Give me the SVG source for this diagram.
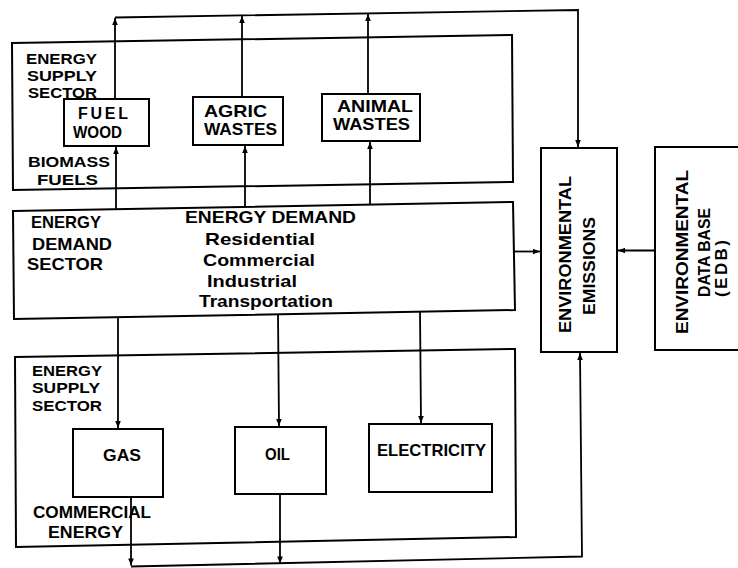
<svg xmlns="http://www.w3.org/2000/svg" width="738" height="568" viewBox="0 0 738 568">
<style>
.box{fill:none;stroke:#000;stroke-width:2;stroke-linejoin:miter}
.c{fill:none;stroke:#000;stroke-width:1.8}
.a{marker-end:url(#ah)}
text{font-family:"Liberation Sans",Arial,sans-serif;font-weight:bold;font-size:17px;fill:#000}
.s{font-size:15px}
.m{font-size:16px}
</style>
<defs>
<marker id="ah" viewBox="0 0 10 10" refX="10" refY="5" markerWidth="8" markerHeight="7" markerUnits="userSpaceOnUse" orient="auto">
<path d="M0,1 L10,5 L0,9 z" fill="#000"/>
</marker>
</defs>
<rect x="0" y="0" width="738" height="568" fill="#fff"/>

<g id="biomass-supply-sector">
<path class="box" d="M12,43 L512,35 L513,182 L13,190 Z"/>
<text class="s" x="26" y="64" textLength="71" lengthAdjust="spacingAndGlyphs">ENERGY</text>
<text class="s" x="27" y="81" textLength="70" lengthAdjust="spacingAndGlyphs">SUPPLY</text>
<text class="s" x="28" y="98" textLength="69" lengthAdjust="spacingAndGlyphs">SECTOR</text>
<text class="s" x="28" y="167" textLength="82" lengthAdjust="spacingAndGlyphs">BIOMASS</text>
<text class="s" x="37" y="185" textLength="61" lengthAdjust="spacingAndGlyphs">FUELS</text>
</g>

<g id="fuel-wood">
<rect class="box" x="64" y="99" width="85" height="47"/>
<text class="m" x="78" y="119" textLength="50" lengthAdjust="spacing">FUEL</text>
<text class="m" x="73" y="137.5" textLength="49" lengthAdjust="spacingAndGlyphs">WOOD</text>
</g>

<g id="agric-wastes">
<rect class="box" x="193" y="97" width="90" height="48"/>
<text x="204" y="117" textLength="63" lengthAdjust="spacingAndGlyphs">AGRIC</text>
<text x="204" y="135" textLength="73" lengthAdjust="spacingAndGlyphs">WASTES</text>
</g>

<g id="animal-wastes">
<rect class="box" x="322" y="94" width="98" height="47"/>
<text x="337" y="112" textLength="76" lengthAdjust="spacingAndGlyphs">ANIMAL</text>
<text x="333" y="130" textLength="77" lengthAdjust="spacingAndGlyphs">WASTES</text>
</g>

<g id="energy-demand-sector">
<path class="box" d="M13,211 L513,202 L515,310 L14,319 Z"/>
<text x="31" y="228" textLength="70" lengthAdjust="spacingAndGlyphs">ENERGY</text>
<text x="32" y="250" textLength="80" lengthAdjust="spacingAndGlyphs">DEMAND</text>
<text x="27" y="270" textLength="76" lengthAdjust="spacingAndGlyphs">SECTOR</text>
<text x="185" y="223" textLength="171" lengthAdjust="spacingAndGlyphs">ENERGY DEMAND</text>
<text x="205" y="245" textLength="110" lengthAdjust="spacingAndGlyphs">Residential</text>
<text x="203" y="266" textLength="112" lengthAdjust="spacingAndGlyphs">Commercial</text>
<text x="207" y="287" textLength="90" lengthAdjust="spacingAndGlyphs">Industrial</text>
<text x="199" y="307" textLength="134" lengthAdjust="spacingAndGlyphs">Transportation</text>
</g>

<g id="commercial-supply-sector">
<path class="box" d="M15,357 L515,349 L516,537 L16,547 Z"/>
<text class="s" x="32" y="376" textLength="70" lengthAdjust="spacingAndGlyphs">ENERGY</text>
<text class="s" x="32" y="393" textLength="68" lengthAdjust="spacingAndGlyphs">SUPPLY</text>
<text class="s" x="32" y="411" textLength="70" lengthAdjust="spacingAndGlyphs">SECTOR</text>
<text x="33" y="518" textLength="118" lengthAdjust="spacingAndGlyphs">COMMERCIAL</text>
<text x="48" y="538" textLength="75" lengthAdjust="spacingAndGlyphs">ENERGY</text>
</g>

<g id="gas">
<rect class="box" x="73" y="429" width="90" height="68"/>
<text x="103" y="461" textLength="38" lengthAdjust="spacingAndGlyphs">GAS</text>
</g>

<g id="oil">
<rect class="box" x="235" y="427" width="91" height="67"/>
<text x="265" y="460" textLength="25" lengthAdjust="spacingAndGlyphs">OIL</text>
</g>

<g id="electricity">
<rect class="box" x="369" y="424" width="123" height="68"/>
<text x="377" y="456" textLength="109" lengthAdjust="spacingAndGlyphs">ELECTRICITY</text>
</g>

<g id="environmental-emissions">
<rect class="box" x="541" y="148" width="76" height="204"/>
<text transform="translate(571,333) rotate(-90)" textLength="157" lengthAdjust="spacingAndGlyphs">ENVIRONMENTAL</text>
<text transform="translate(595,315) rotate(-90)" textLength="98" lengthAdjust="spacingAndGlyphs">EMISSIONS</text>
</g>

<g id="environmental-data-base">
<path class="box" d="M738,147 L655,147 L655,350 L738,350"/>
<text transform="translate(688,334) rotate(-90)" textLength="164" lengthAdjust="spacingAndGlyphs">ENVIRONMENTAL</text>
<text transform="translate(710,297) rotate(-90)" textLength="89" lengthAdjust="spacingAndGlyphs">DATA BASE</text>
<text transform="translate(727,297) rotate(-90)" textLength="57" lengthAdjust="spacing">(EDB)</text>
</g>

<g id="connectors">
<path class="c" d="M115,17.5 L578,10 L578,147" marker-end="url(#ah)"/>
<path class="c a" d="M115,99 L115,18"/>
<path class="c a" d="M242,97 L242,16"/>
<path class="c a" d="M368,94 L368,14"/>
<path class="c a" d="M116,209 L116,147"/>
<path class="c a" d="M245,207 L245,146"/>
<path class="c a" d="M370,205 L370,142"/>
<path class="c a" d="M514,251.5 L540,251.5"/>
<path class="c a" d="M655,250.5 L618,250.5"/>
<path class="c a" d="M118,317 L118,428"/>
<path class="c a" d="M278,314 L279,426"/>
<path class="c a" d="M420,311 L421,423"/>
<path class="c a" d="M131,497 L131,565.5"/>
<path class="c a" d="M280,494 L280,563.5"/>
<path class="c a" d="M131,566.5 L582,556.5 L580,353"/>
</g>
</svg>
